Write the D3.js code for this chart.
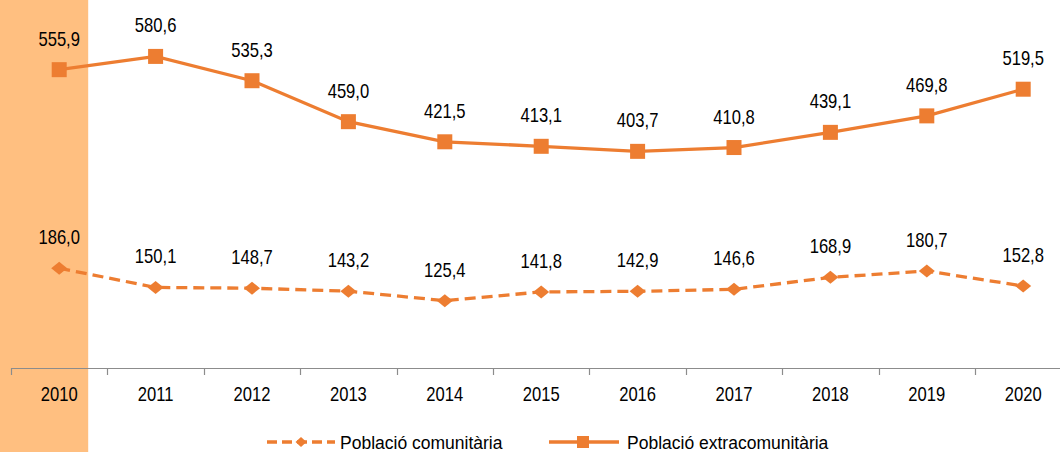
<!DOCTYPE html>
<html>
<head>
<meta charset="utf-8">
<script src="https://cdn.jsdelivr.net/npm/d3@7"></script>
<style>
body{margin:0;background:#fff;}
svg{display:block;font-family:"Liberation Sans",Arial,sans-serif;}
</style>
</head>
<body>
<svg id="chart" width="1060" height="452"></svg>
<script>
const years = ['2010','2011','2012','2013','2014','2015','2016','2017','2018','2019','2020'];
const comunitaria = [186.0,150.1,148.7,143.2,125.4,141.8,142.9,146.6,168.9,180.7,152.8];
const extracomunitaria = [555.9,580.6,535.3,459.0,421.5,413.1,403.7,410.8,439.1,469.8,519.5];
const seriesNames = ['Població comunitària','Població extracomunitària'];
const highlightYear = '2010';

const orange = '#ED7D31';
const svg = d3.select('#chart');
const W = 1060, H = 452;

const x = d3.scaleBand().domain(years).range([11, 11 + 11*96.4]);
const y = d3.scaleLinear().domain([0, 600]).range([368, 46]);
const fmt = v => v.toFixed(1).replace('.', ',');
const cx = d => x(d) + x.bandwidth()/2;

// narrow text (Arial Narrow look)
function narrow(sel, px, py, txt){
  sel.append('text')
    .attr('transform', `translate(${px},${py}) scale(0.83,1)`)
    .attr('text-anchor', 'middle').attr('font-size', 20).attr('fill', '#000')
    .text(txt);
}

// highlighted year
svg.append('rect')
  .attr('x', 0).attr('y', 0)
  .attr('width', cx(highlightYear) + 29)
  .attr('height', H)
  .attr('fill', '#FFBF80');

// x axis
const ax = svg.append('g').attr('transform', 'translate(0,368)');
ax.append('line').attr('x1', 11).attr('x2', W).attr('y1', 0.5).attr('y2', 0.5)
  .attr('stroke', '#8c8c8c').attr('stroke-width', 1.2);
ax.selectAll('.tk').data(years).enter().append('line')
  .attr('x1', d => Math.round(x(d)) + 0.5).attr('x2', d => Math.round(x(d)) + 0.5)
  .attr('y1', 0).attr('y2', 7)
  .attr('stroke', '#8c8c8c').attr('stroke-width', 1.2);
years.forEach(d => narrow(ax, cx(d), 33, d));

const line = d3.line().x((d,i) => cx(years[i])).y(d => y(d));
const diamond = (w, h) => `M0,${-h/2}L${w/2},0L0,${h/2}L${-w/2},0Z`;

// comunitaria (dashed, diamonds)
svg.append('path').datum(comunitaria).attr('d', line)
  .attr('fill', 'none').attr('stroke', orange).attr('stroke-width', 3.3)
  .attr('stroke-dasharray', '11,6');
svg.selectAll('.dm').data(comunitaria).enter().append('path')
  .attr('d', diamond(16, 13))
  .attr('transform', (d,i) => `translate(${cx(years[i])},${y(d)})`)
  .attr('fill', orange);
comunitaria.forEach((d,i) => narrow(svg, cx(years[i]), y(d) - 24, fmt(d)));

// extracomunitaria (solid, squares)
svg.append('path').datum(extracomunitaria).attr('d', line)
  .attr('fill', 'none').attr('stroke', orange).attr('stroke-width', 3.3);
svg.selectAll('.sq').data(extracomunitaria).enter().append('rect')
  .attr('x', (d,i) => cx(years[i]) - 7.5).attr('y', d => y(d) - 7.5)
  .attr('width', 15).attr('height', 15).attr('fill', orange);
extracomunitaria.forEach((d,i) => narrow(svg, cx(years[i]), y(d) - 24, fmt(d)));

// legend
const lg = svg.append('g').attr('transform', 'translate(0,442)');
lg.append('line').attr('x1', 267).attr('x2', 335).attr('y1', 0).attr('y2', 0)
  .attr('stroke', orange).attr('stroke-width', 3.3).attr('stroke-dasharray', '10,5');
lg.append('path').attr('d', diamond(11, 10))
  .attr('transform', 'translate(301,0)').attr('fill', orange);
lg.append('text').attr('x', 340).attr('y', 6.5).attr('font-size', 17.5).text(seriesNames[0]);
lg.append('line').attr('x1', 549).attr('x2', 619).attr('y1', 0).attr('y2', 0)
  .attr('stroke', orange).attr('stroke-width', 3.3);
lg.append('rect').attr('x', 577).attr('y', -6).attr('width', 12).attr('height', 12).attr('fill', orange);
lg.append('text').attr('x', 627).attr('y', 6.5).attr('font-size', 17.5).text(seriesNames[1]);
</script>
</body>
</html>
